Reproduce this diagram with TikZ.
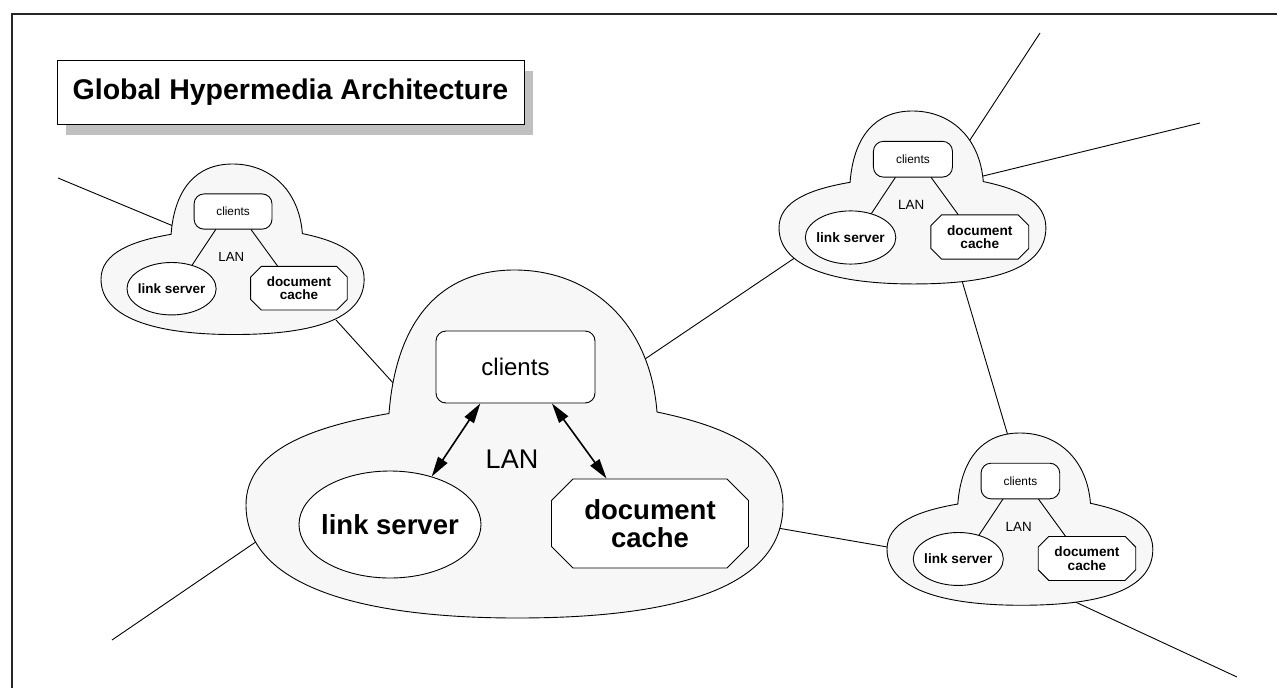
\documentclass[tikz,border=0pt]{standalone}
\usepackage{fontspec}
\setmainfont{Liberation Sans}
\usetikzlibrary{shapes.geometric,shapes.misc,arrows.meta,calc}
\pgfdeclarelayer{bg}
\pgfsetlayers{bg,main}
\definecolor{cloudfill}{RGB}{247,247,247}
\definecolor{shadowgray}{RGB}{192,192,192}
\tikzset{
 cloudline/.style={draw=black, line width=0.9pt, fill=cloudfill},
 clientbox/.style={draw, line width=0.9pt, fill=white, rounded corners=10pt, minimum width=159pt, minimum height=72pt, inner sep=0pt, font=\fontsize{24}{28}\selectfont},
 lantext/.style={inner sep=0pt, font=\fontsize{27}{30}\selectfont},
 lsnode/.style={ellipse, draw, line width=0.9pt, fill=white, minimum width=182pt, minimum height=107pt, inner sep=0pt, font=\fontsize{27.5}{30}\selectfont\bfseries},
 dcnode/.style={chamfered rectangle, chamfered rectangle xsep=18pt, draw, line width=0.9pt, fill=white, minimum width=197pt, minimum height=89pt, inner sep=0pt, align=center, font=\fontsize{27.5}{27.5}\selectfont\bfseries},
 biarrow/.style={line width=1.6pt, {Triangle[length=20pt,width=11pt]}-{Triangle[length=20pt,width=11pt]}},
 plainconn/.style={line width=0.9pt},
 netline/.style={line width=0.9pt},
 titlebox/.style={draw, line width=0.9pt, fill=white, minimum width=467pt, minimum height=64pt, inner sep=0pt, font=\fontsize{28.5}{32}\selectfont\bfseries},
}
\newcommand\lancloud[5]{%
\begin{scope}[shift={(#2,#3)}, scale=#4, transform shape]
 \draw[cloudline] (143,143.5) .. controls (150,52) and (193,0) .. (268.5,0)
   .. controls (344,0) and (404,52) .. (411,142)
   .. controls (483,157) and (537,182) .. (537,235)
   .. controls (537,318) and (430,348) .. (271,348)
   .. controls (107,348) and (0,313) .. (0,235)
   .. controls (0,181) and (64,157) .. (143,143.5) -- cycle;
 \node[clientbox] (#1-cl) at (269.5,97) {clients};
 \node[lantext] (#1-lan) at (266,189.5) {LAN};
 \node[lsnode] (#1-ls) at (144,254.5) {\makebox[0pt][c]{link server}};
 \node[dcnode] (#1-dc) at (404,253.5) {document\\cache};
 \draw[#5] (#1-cl.226.9) -- (#1-ls.49.3);
 \draw[#5] (#1-cl.315.2) -- (#1-dc.134.7);
\end{scope}}
\begin{document}
\begin{tikzpicture}[x=1pt,y=-1pt]
\useasboundingbox (0,0) rectangle (1277,688);
\begin{pgfonlayer}{bg}
\fill[white] (0,0) rectangle (1277,688);
\end{pgfonlayer}
\draw[line width=1.3pt, black!85] (12,688) -- (12,14) -- (1277,14);
% title
\fill[shadowgray] (66,71) rectangle (533,135);
\node[titlebox] (title) at (290.5,92) {Global Hypermedia Architecture};
% clouds
\lancloud{tl}{101}{164}{0.49}{plainconn}
\lancloud{tr}{779}{111}{0.497}{plainconn}
\lancloud{br}{887}{433}{0.495}{plainconn}
\lancloud{c}{246}{270}{1}{biarrow}
% network line end points
\coordinate (n1a) at (58,178);   \coordinate (n1b) at (190,233);
\coordinate (n2a) at (336,320);  \coordinate (n2b) at (404,395);
\coordinate (n3a) at (645,359);  \coordinate (n3b) at (802,253);
\coordinate (n4a) at (766,526);  \coordinate (n4b) at (899,549);
\coordinate (n5a) at (112,640);  \coordinate (n5b) at (263,537);
\coordinate (n6a) at (1040,33);  \coordinate (n6b) at (968,143);
\coordinate (n7a) at (1200,123); \coordinate (n7b) at (975,178);
\coordinate (n8a) at (960,274);  \coordinate (n8b) at (1011,446);
\coordinate (n9a) at (1071,600); \coordinate (n9b) at (1237,677);
\begin{pgfonlayer}{bg}
\draw[netline] (n1a) -- (n1b);
\draw[netline] (n2a) -- (n2b);
\draw[netline] (n3a) -- (n3b);
\draw[netline] (n4a) -- (n4b);
\draw[netline] (n5a) -- (n5b);
\draw[netline] (n6a) -- (n6b);
\draw[netline] (n7a) -- (n7b);
\draw[netline] (n8a) -- (n8b);
\draw[netline] (n9a) -- (n9b);
\end{pgfonlayer}
\end{tikzpicture}
\end{document}
